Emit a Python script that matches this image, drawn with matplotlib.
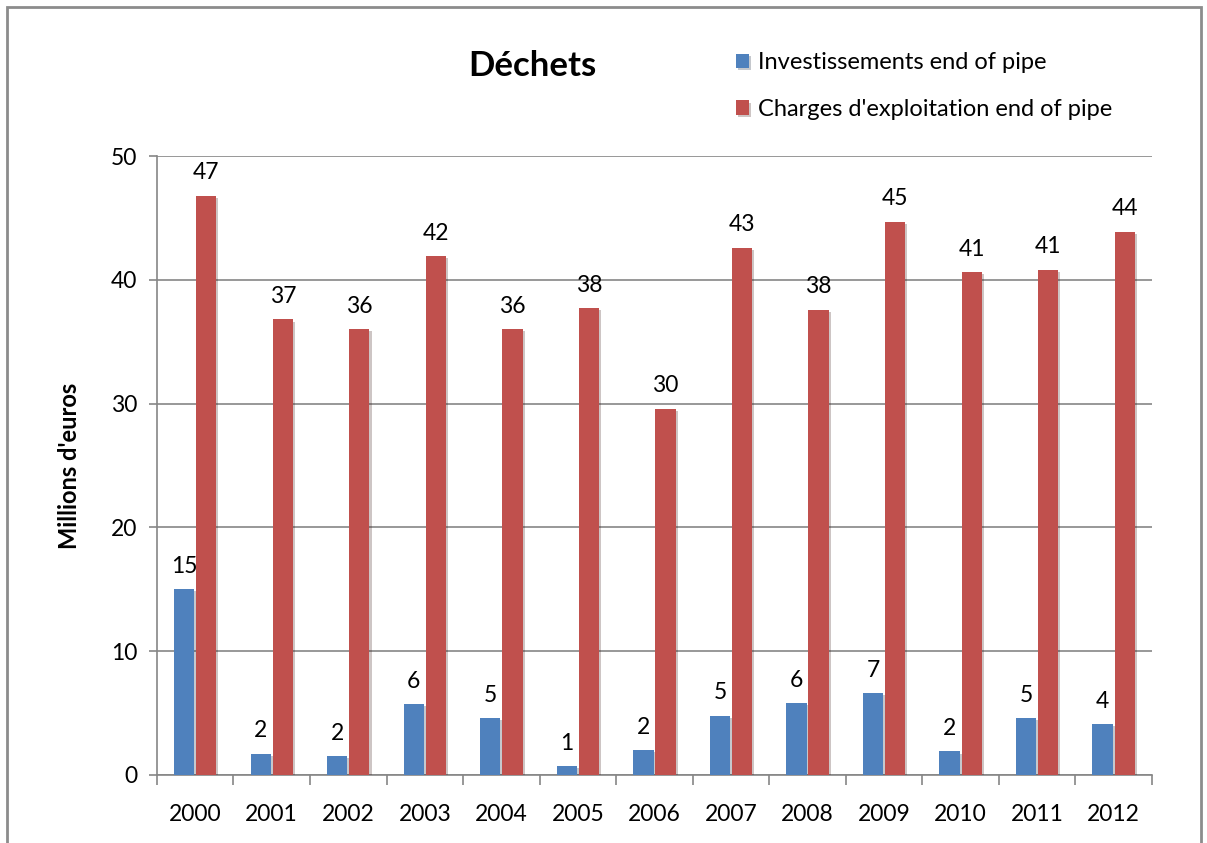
import matplotlib
matplotlib.use("Agg")
import matplotlib.pyplot as plt
import matplotlib.patheffects as pe
from matplotlib.patches import Rectangle
import numpy as np

plt.rcParams['font.family'] = ['Lato', 'DejaVu Sans']

years = ["2000", "2001", "2002", "2003", "2004", "2005", "2006",
         "2007", "2008", "2009", "2010", "2011", "2012"]
invest = [15.0, 1.7, 1.5, 5.7, 4.6, 0.7, 2.0, 4.8, 5.8, 6.6, 1.9, 4.6, 4.1]
charges = [46.8, 36.8, 36.0, 41.9, 36.0, 37.7, 29.6, 42.6, 37.6, 44.7, 40.6, 40.8, 43.9]

blue = '#4F81BD'
red = '#C0504D'
grey = '#868686'

fig = plt.figure(figsize=(12.07, 8.43), dpi=100)
# outer chart frame
fig.patches.append(Rectangle((0.006, -0.05), 0.989, 1.042, transform=fig.transFigure,
                             fill=False, edgecolor='#8c8c8c', linewidth=2))

ax = fig.add_axes([0.1300, 0.0807, 0.8244, 0.7342])

x = np.arange(len(years))
w = 0.265
shadow = [pe.SimplePatchShadow(offset=(1.5, -1.5), alpha=0.25), pe.Normal()]
b1 = ax.bar(x - w / 2 - 0.012, invest, w, color=blue, label='Investissements end of pipe',
            path_effects=shadow, zorder=3)
b2 = ax.bar(x + w / 2 + 0.012, charges, w, color=red, label="Charges d'exploitation end of pipe",
            path_effects=shadow, zorder=3)

for bars, vals in ((b1, invest), (b2, charges)):
    for rect, v in zip(bars, vals):
        ax.annotate(f"{v:.0f}", (rect.get_x() + rect.get_width() / 2, v),
                    xytext=(0, 9), textcoords='offset points',
                    ha='center', va='bottom', fontsize=16.5)

ax.set_xlim(-0.5, len(years) - 0.5)
ax.set_ylim(0, 50)
ax.set_yticks([0, 10, 20, 30, 40, 50])
ax.yaxis.grid(True, color=grey, linewidth=1.2, zorder=0)
ax.set_axisbelow(True)

ax.set_xticks(x)
ax.set_xticklabels(years, fontsize=16.5)
ax.set_xticks(np.arange(-0.5, len(years)), minor=True)
ax.tick_params(axis='x', which='major', length=0, pad=21)
ax.tick_params(axis='x', which='minor', length=7, color=grey, width=1.2)
ax.tick_params(axis='y', length=6, color=grey, width=1.2, labelsize=16.5, pad=8)

for s in ('top', 'right'):
    ax.spines[s].set_visible(False)
for s in ('left', 'bottom'):
    ax.spines[s].set_color(grey)
    ax.spines[s].set_linewidth(1.2)

ax.set_ylabel("Millions d'euros", fontsize=17, fontweight='bold', labelpad=22)

fig.text(0.441, 0.922, "Déchets", ha='center', va='center', fontsize=25, fontweight='bold')

fig.legend(handles=[b1, b2], loc='upper left', bbox_to_anchor=(0.592, 0.963),
           frameon=False, fontsize=17, handlelength=0.55, handleheight=0.55,
           handletextpad=0.4, labelspacing=1.08)

fig.savefig("out.png", dpi=100)
